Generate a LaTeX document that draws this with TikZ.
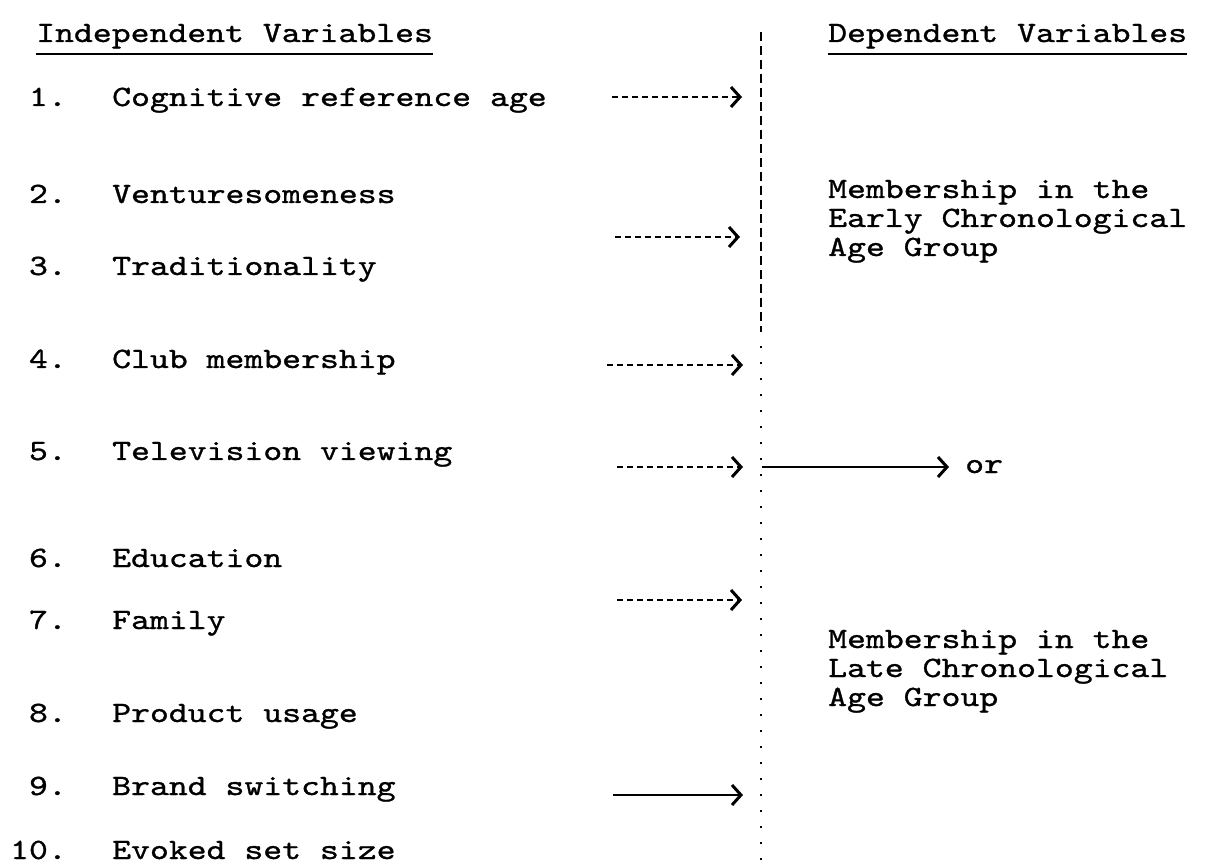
\documentclass[tikz,border=0pt]{standalone}
\usepackage{fontspec}
\newfontfamily\typefont[FakeStretch=1.22,FakeBold=1]{lmmono10-regular.otf}
\usetikzlibrary{arrows.meta}
\tikzset{
  typed/.style={font=\typefont\fontsize{29.5}{30}\selectfont, inner sep=0pt},
  item/.style={typed, anchor=base west},
  num/.style={typed, anchor=base east},
  link/.style={line width=1.3pt, dash pattern=on 6pt off 4pt,
    -{Straight Barb[length=9pt,width=20pt,line width=3pt]}},
  solidlink/.style={link, solid, line width=2pt}
}
\begin{document}
\begin{tikzpicture}[x=1pt,y=-1pt]
  \useasboundingbox (0,0) rectangle (1205,866);
  % headings
  \node[item] (indep) at (36,42) {Independent Variables};
  \node[item] (dep) at (828,42) {Dependent Variables};
  \draw[line width=1.8pt] ([yshift=-12pt]indep.base west) -- ([yshift=-12pt]indep.base east);
  \draw[line width=1.8pt] ([yshift=-12pt]dep.base west) -- ([yshift=-12pt]dep.base east);
  % independent variables
  \draw
    (67,106) node[num] (n1){1.}  (112,106) node[item] (iv1){Cognitive reference age}
    (67,203) node[num] (n2){2.}  (112,203) node[item] (iv2){Venturesomeness}
    (67,275) node[num] (n3){3.}  (112,275) node[item] (iv3){Traditionality}
    (67,368) node[num] (n4){4.}  (112,368) node[item] (iv4){Club membership}
    (67,460) node[num] (n5){5.}  (112,460) node[item] (iv5){Television viewing}
    (67,567) node[num] (n6){6.}  (112,567) node[item] (iv6){Education}
    (67,629) node[num] (n7){7.}  (112,629) node[item] (iv7){Family}
    (67,722) node[num] (n8){8.}  (112,722) node[item] (iv8){Product usage}
    (67,795) node[num] (n9){9.}  (112,795) node[item] (iv9){Brand switching}
    (67,859) node[num] (n10){10.} (112,859) node[item] (iv10){Evoked set size};
  % dependent variables
  \node[item] (early1) at (828,198) {Membership in the};
  \node[item] (early2) at (828,227) {Early Chronological};
  \node[item] (early3) at (828,256) {Age Group};
  \node[item] (or) at (965,473) {or};
  \node[item] (late1) at (828,648) {Membership in the};
  \node[item] (late2) at (828,677) {Late Chronological};
  \node[item] (late3) at (828,706) {Age Group};
  % dividing line
  \coordinate (bartop) at (761,32);
  \coordinate (barmid) at (761,330);
  \coordinate (barbot) at (761,866);
  \draw[line width=1.2pt, dash pattern=on 9pt off 5pt] (bartop) -- (barmid);
  \draw[line width=1.2pt, dash pattern=on 2pt off 14pt] (barmid) -- (barbot);
  % arrows
  \coordinate (a1) at (612,97);   \coordinate (b1) at (742,97);
  \coordinate (a3) at (615,237);  \coordinate (b3) at (740,237);
  \coordinate (a4) at (607,365);  \coordinate (b4) at (743,365);
  \coordinate (a5) at (617,467);  \coordinate (b5) at (743,467);
  \coordinate (a7) at (617,600);  \coordinate (b7) at (742,600);
  \coordinate (a9) at (613,795);  \coordinate (b9) at (743,795);
  \coordinate (c5) at (762,467);
  \begin{scope}
    \draw[link] (a1) -- (b1);
    \draw[link] (a3) -- (b3);
    \draw[link] (a4) -- (b4);
    \draw[link] (a5) -- (b5);
    \draw[link] (a7) -- (b7);
    \draw[solidlink] (a9) -- (b9);
    \draw[solidlink] (c5) -- ([xshift=-16pt]or.west |- c5);
  \end{scope}
\end{tikzpicture}
\end{document}
